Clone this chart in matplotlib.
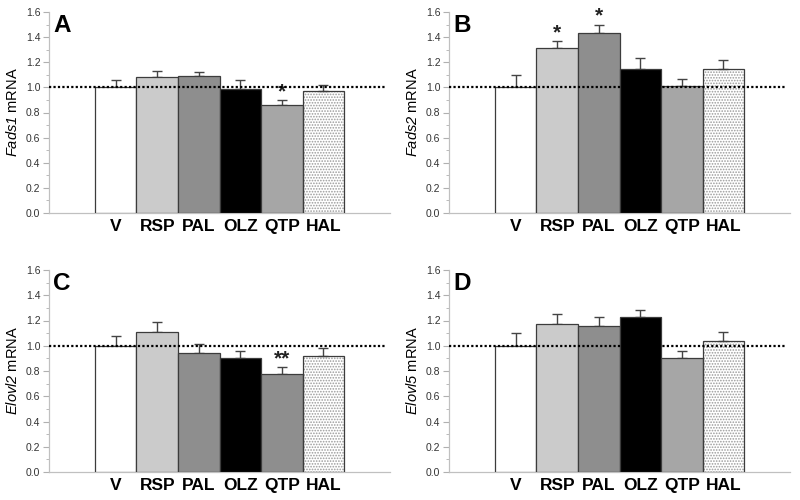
import numpy as np
import matplotlib
matplotlib.use("Agg")
import matplotlib.pyplot as plt
from matplotlib.ticker import MultipleLocator

plt.rcParams['font.family'] = ['Liberation Sans', 'DejaVu Sans']
plt.rcParams['mathtext.fontset'] = 'custom'
plt.rcParams['mathtext.sf'] = 'Liberation Sans:italic'
plt.rcParams['mathtext.rm'] = 'Liberation Sans'
plt.rcParams['hatch.linewidth'] = 0.8

## ================= DATA ================= ##
groups = ["V", "RSP", "PAL", "OLZ", "QTP", "HAL"]

fads1 = [1.00, 1.08, 1.09, 0.99, 0.86, 0.97]
fads1_err = [0.06, 0.05, 0.03, 0.07, 0.04, 0.05]
fads1_sig = ["", "", "", "", "*", ""]

fads2 = [1.00, 1.31, 1.43, 1.15, 1.01, 1.15]
fads2_err = [0.10, 0.06, 0.07, 0.08, 0.06, 0.07]
fads2_sig = ["", "*", "*", "", "", ""]

elovl2 = [1.00, 1.11, 0.94, 0.90, 0.78, 0.915]
elovl2_err = [0.08, 0.08, 0.07, 0.06, 0.05, 0.065]
elovl2_sig = ["", "", "", "", "**", ""]

elovl5 = [1.00, 1.175, 1.155, 1.225, 0.905, 1.037]
elovl5_err = [0.10, 0.08, 0.075, 0.06, 0.055, 0.075]
elovl5_sig = ["", "", "", "", "", ""]

panels = [
    ("A", "Fads1", fads1, fads1_err, fads1_sig),
    ("B", "Fads2", fads2, fads2_err, fads2_sig),
    ("C", "Elovl2", elovl2, elovl2_err, elovl2_sig),
    ("D", "Elovl5", elovl5, elovl5_err, elovl5_sig),
]

colors_default = ["white", "#cbcbcb", "#8e8e8e", "black", "#a6a6a6", "white"]
colors_c = ["white", "#cbcbcb", "#8e8e8e", "black", "#8e8e8e", "white"]

# axes boxes in figure fractions [left, bottom, width, height]
boxes = [
    [0.061, 0.574, 0.427, 0.402],
    [0.561, 0.574, 0.427, 0.402],
    [0.061, 0.056, 0.427, 0.404],
    [0.561, 0.056, 0.427, 0.404],
]

fig = plt.figure(figsize=(8, 5), dpi=100)

for (letter, gene, vals, errs, sigs), box in zip(panels, boxes):
    ax = fig.add_axes(box)
    x = np.arange(len(groups))
    cols = colors_c if letter == "C" else colors_default

    # dotted pattern bar (HAL) underneath
    ax.bar(x[-1], vals[-1], width=1.0, color="white", edgecolor="#9a9a9a",
           hatch="......", linewidth=0, zorder=2)
    ax.bar(x, vals, width=1.0, color=[c if i < 5 else "none" for i, c in enumerate(cols)],
           edgecolor="#3c3c3c", linewidth=0.9, zorder=3)
    ax.errorbar(x, vals, yerr=[np.zeros(len(errs)), errs], fmt="none",
                ecolor="#444444", elinewidth=1.0, capsize=3.5, capthick=1.0, zorder=2)

    for xi, v, e, s in zip(x, vals, errs, sigs):
        if s:
            ax.text(xi, v + e - 0.01, s, ha="center", va="bottom",
                    fontsize=15, fontweight="bold", color="#222222")

    ax.axhline(1.0, color="black", linestyle=(0, (1, 1)), linewidth=1.6, zorder=4,
               xmax=0.985)

    ax.set_xlim(-1.61, 6.61)
    ax.set_ylim(0, 1.6)
    ax.set_yticks(np.arange(0, 1.61, 0.2))
    ax.set_yticklabels([f"{t:.1f}" for t in np.arange(0, 1.61, 0.2)])
    ax.yaxis.set_minor_locator(MultipleLocator(0.1))
    ax.tick_params(axis="y", which="major", length=4, color="#b0b0b0",
                   labelsize=7.5, labelcolor="#333333", pad=2)
    ax.tick_params(axis="y", which="minor", length=2.5, color="#b0b0b0")
    ax.set_xticks(x)
    ax.set_xticklabels(groups, fontsize=12.5, fontweight="bold")
    ax.tick_params(axis="x", length=0, pad=4)

    for side in ["top", "right"]:
        ax.spines[side].set_visible(False)
    for side in ["left", "bottom"]:
        ax.spines[side].set_color("#c0c0c0")
        ax.spines[side].set_linewidth(0.9)

    ax.set_ylabel(r"$\mathsf{" + gene + r"}$ mRNA", fontsize=10.5, labelpad=4)
    ax.text(0.012, 0.99, letter, transform=ax.transAxes, fontsize=17.5,
            fontweight="bold", va="top", ha="left")

fig.savefig("out.png", dpi=100)
